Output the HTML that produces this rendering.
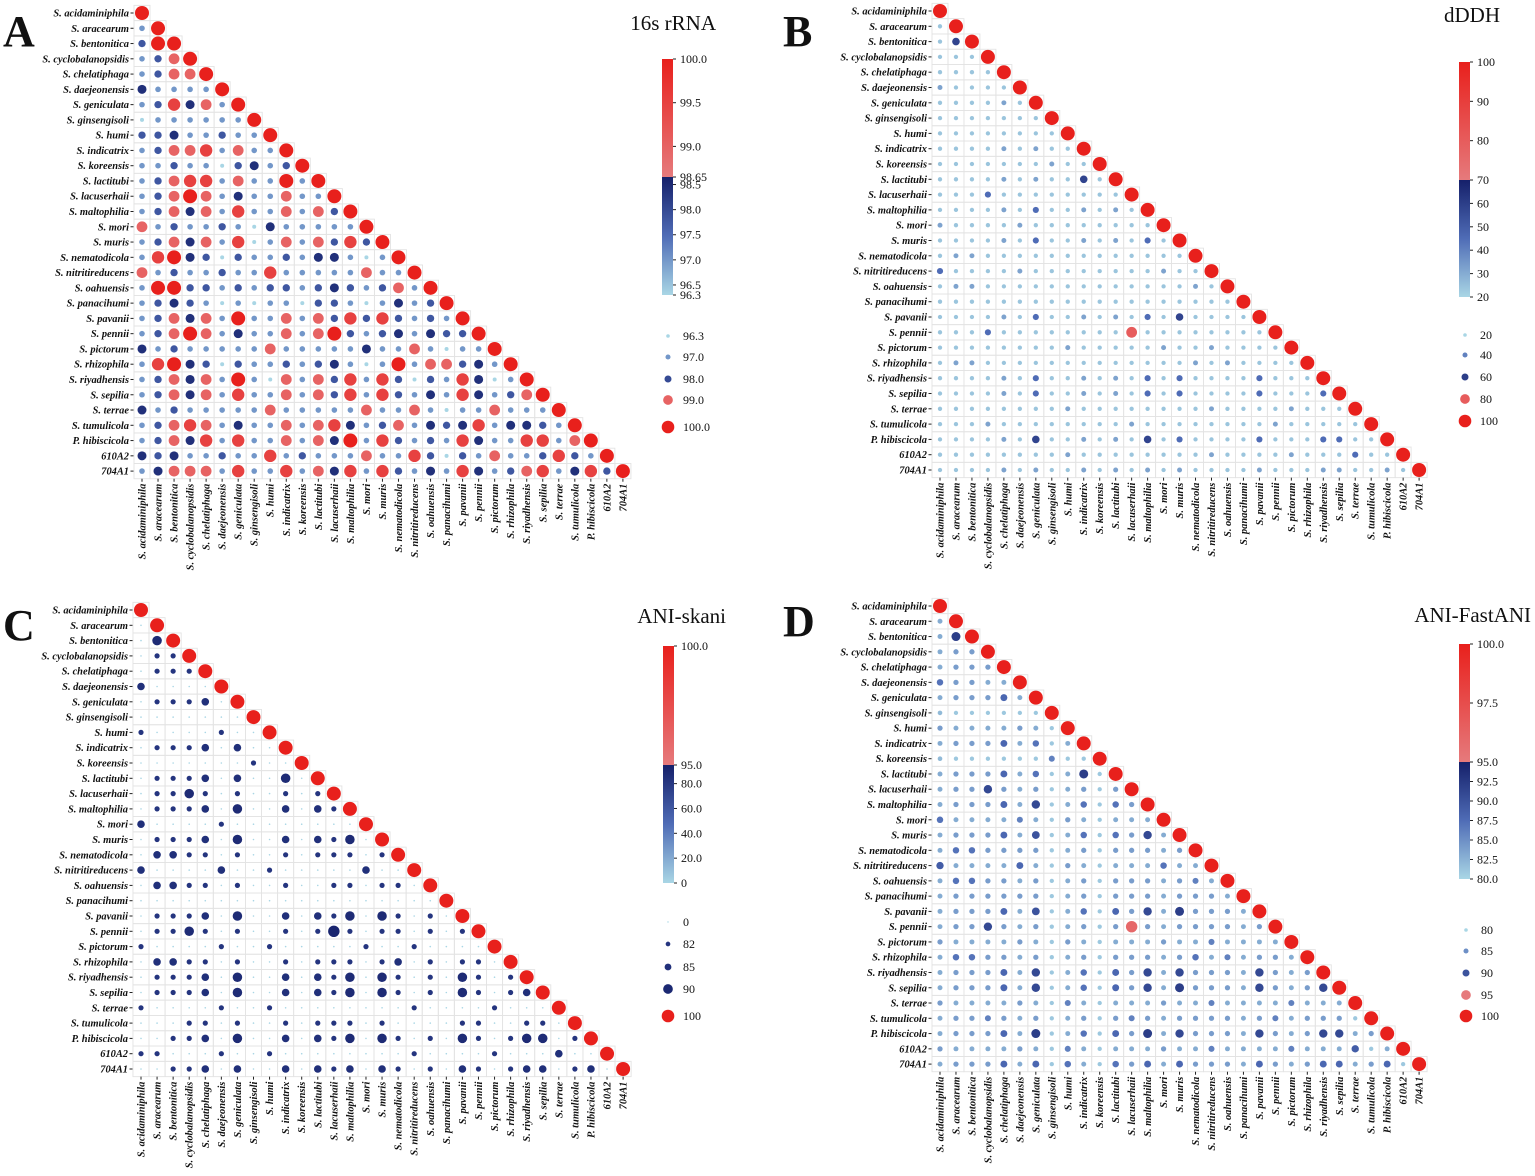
<!DOCTYPE html>
<html><head><meta charset="utf-8">
<style>
html,body{margin:0;padding:0;background:#fff;}
svg{display:block;}
text{font-family:"Liberation Serif",serif;}
.lab{font-size:10.4px;font-weight:bold;font-style:italic;fill:#111;}
.tk{font-size:12px;fill:#111;}
.ttl{font-size:21px;fill:#111;}
.let{font-size:44px;font-weight:bold;fill:#111;}
</style></head>
<body>
<svg id="fig" width="1535" height="1176" viewBox="0 0 1535 1176" xmlns="http://www.w3.org/2000/svg"></svg>
<script>
const speciesLabels = ["S. acidaminiphila","S. aracearum","S. bentonitica","S. cyclobalanopsidis","S. chelatiphaga","S. daejeonensis","S. geniculata","S. ginsengisoli","S. humi","S. indicatrix","S. koreensis","S. lactitubi","S. lacuserhaii","S. maltophilia","S. mori","S. muris","S. nematodicola","S. nitritireducens","S. oahuensis","S. panacihumi","S. pavanii","S. pennii","S. pictorum","S. rhizophila","S. riyadhensis","S. sepilia","S. terrae","S. tumulicola","P. hibiscicola","610A2","704A1"];

const rrnaValues = [
[100],
[97,100],
[97.8,100,100],
[97,97.8,99,100],
[97,97.8,99,99,100],
[98.4,97,97,97,97,100],
[97,97.8,99.5,98.4,99,97,100],
[96.3,97,97,97,97,97,97,100],
[97.8,97.8,98.4,97,97,97.8,97,97,100],
[97,97.8,99,99,99.5,97,99,97,97,100],
[97,97,97.8,97,97,96.3,97.8,98.4,97,97.8,100],
[97,97.8,99,99.5,99.5,97,99,97,97,100,97,100],
[97,97.8,99,100,99,97,98.4,97,97,99,97,97,100],
[97,97.8,99,98.4,99,97,99.5,97,97,99,97,99,97.8,100],
[99,97,97.8,97,97,97.8,97,96.3,98.4,97,97,97,97,97,100],
[97,97.8,99,98.4,99,97,99.5,96.3,97,99,97,99,97.8,99.5,97.8,100],
[97,99.5,100,98.4,97.8,96.3,97.8,97,97,97.8,97,98.4,98.4,97,96.3,97,100],
[99,97,97.8,97,97,97.8,97,97,99.5,97,97,97,97,97,99,97,97,100],
[97,100,100,97.8,97.8,97,97.8,97,97.8,97.8,97,97.8,98.4,97.8,97,97.8,99,97,100],
[97,97.8,98.4,97.8,97,96.3,97,96.3,97,97,96.3,97.8,97.8,97,96.3,97,98.4,97,97.8,100],
[97,97.8,99,98.4,99,97,100,97,97,99,97,99,97.8,99.5,97.8,99.5,97.8,97,97.8,97,100],
[97,97.8,99,100,99,97,98.4,97,97,99,97,99,100,97.8,97,97.8,98.4,97,98.4,97.8,97.8,100],
[98.4,97,97.8,97,97,97,97,97,99,97,97,97,97,97,98.4,97,97,99,97,96.3,97,97,100],
[97,99.5,100,98.4,97.8,96.3,97.8,97,97,97.8,97,97.8,98.4,97,96.3,97,100,97,99,99,97.8,98.4,97,100],
[97,97.8,99,98.4,99,97,100,97,96.3,99,97,99,97.8,99.5,97,99.5,97.8,96.3,97.8,97,99.5,98.4,96.3,97,100],
[97,97.8,99,98.4,99,97,99.5,97,97,99,97,99,97.8,99.5,97,99.5,97.8,97,98.4,97,99.5,98.4,97,97.8,99,100],
[98.4,97,97.8,97,97,97,97,97,99,97,97,97,97,97,99,97,97,99,97,96.3,97,97,99,97,97,97,100],
[97,97.8,99,99.5,99,97,98.4,97,97,99,97,99,99.5,98.4,97,97.8,99,97,98.4,97.8,98.4,99.5,97,98.4,98.4,97.8,97,100],
[97,97.8,99,98.4,99.5,97,99.5,97,97,99,97,99,98.4,100,97,99.5,97.8,97,97.8,97,99.5,98.4,97,97,99.5,99.5,97,99,100],
[98.4,97.8,98.4,97,97,97.8,97,97,99.5,97,97.8,97,97,97,99,97,97,99.5,97.8,96.3,97.8,97,99,97,97,97.8,99.5,97.8,97,100],
[97,98.4,99,99,99,97,99.5,97,97,99.5,97,99,98.4,99.5,97,99.5,97.8,97,98.4,97,99.5,98.4,97,97.8,99,99.5,97,98.4,99.5,97.8,100]
];

const dddhValues = [
[100],
[24,100],
[24,58,100],
[24,24,24,100],
[24,24,24,24,100],
[32,24,24,24,24,100],
[24,24,24,24,32,24,100],
[24,24,24,24,24,24,24,100],
[24,24,24,24,24,24,24,24,100],
[24,24,24,24,32,24,32,24,24,100],
[24,24,24,24,24,24,24,32,24,24,100],
[24,24,24,24,32,24,32,24,24,58,24,100],
[24,24,24,45,24,24,24,24,24,24,24,24,100],
[24,24,24,24,32,24,45,24,24,32,24,32,24,100],
[32,24,24,24,24,32,24,24,24,24,24,24,24,24,100],
[24,24,24,24,32,24,45,24,24,32,24,32,24,45,24,100],
[24,32,32,24,24,24,24,24,24,24,24,24,24,24,24,24,100],
[45,24,24,24,24,32,24,24,24,24,24,24,24,24,32,24,24,100],
[24,32,32,24,24,24,24,24,24,24,24,24,24,24,24,24,32,24,100],
[24,24,24,24,24,24,24,24,24,24,24,24,24,24,24,24,24,24,24,100],
[24,24,24,24,32,24,45,24,24,32,24,32,24,45,24,58,24,24,24,24,100],
[24,24,24,45,24,24,24,24,24,24,24,24,80,24,24,24,24,24,24,24,24,100],
[24,24,24,24,24,24,24,24,32,24,24,24,24,24,32,24,24,32,24,24,24,24,100],
[24,32,32,24,24,24,24,24,24,24,24,24,24,24,24,24,32,24,32,24,24,24,24,100],
[24,24,24,24,32,24,45,24,24,32,24,32,24,45,24,45,24,24,24,24,45,24,24,24,100],
[24,24,24,24,32,24,45,24,24,32,24,32,24,45,24,45,24,24,24,24,45,24,24,24,45,100],
[24,24,24,24,24,24,24,24,32,24,24,24,24,24,24,24,24,32,24,24,24,24,32,24,24,24,100],
[24,24,24,32,24,24,24,24,24,24,24,24,32,24,24,24,24,24,24,24,24,32,24,24,24,24,24,100],
[24,24,24,24,32,24,58,24,24,32,24,32,24,58,24,45,24,24,24,24,45,24,24,24,45,45,24,24,100],
[24,24,24,24,24,24,24,24,32,24,24,24,24,24,24,24,24,32,24,24,24,24,32,24,24,24,45,24,24,100],
[24,24,24,24,32,24,32,24,24,32,24,32,24,32,24,32,24,24,24,24,32,24,24,24,32,32,24,24,32,24,100]
];

const skaniValues = [
[100],
[0,100],
[0,88,100],
[0,82,82,100],
[0,82,82,82,100],
[85,0,0,0,0,100],
[0,82,82,82,85,0,100],
[0,0,0,0,0,0,0,100],
[82,0,0,0,0,82,0,0,100],
[0,82,82,82,85,0,85,0,0,100],
[0,0,0,0,0,0,0,82,0,0,100],
[0,82,82,82,85,0,85,0,0,88,0,100],
[0,82,82,88,82,0,82,0,0,82,0,82,100],
[0,82,82,82,85,0,88,0,0,85,0,85,82,100],
[85,0,0,0,0,82,0,0,0,0,0,0,0,0,100],
[0,82,82,82,85,0,88,0,0,85,0,85,82,88,0,100],
[0,85,85,82,82,0,82,0,0,82,0,82,82,82,0,82,100],
[85,0,0,0,0,85,0,0,82,0,0,0,0,0,85,0,0,100],
[0,85,85,82,82,0,82,0,0,82,0,0,82,82,0,82,82,0,100],
[0,0,0,0,0,0,0,0,0,0,0,0,0,0,0,0,0,0,0,100],
[0,82,82,82,85,0,88,0,0,85,0,85,82,88,0,88,82,0,82,0,100],
[0,82,82,88,82,0,82,0,0,82,0,82,92,82,0,82,82,0,82,0,82,100],
[82,0,0,0,0,82,0,0,82,0,0,0,0,0,82,0,0,82,0,0,0,0,100],
[0,85,85,82,82,0,82,0,0,82,0,82,82,82,0,82,85,0,82,0,82,82,0,100],
[0,82,82,82,85,0,88,0,0,85,0,85,82,88,0,88,82,0,82,0,88,82,0,82,100],
[0,82,82,82,85,0,88,0,0,85,0,85,82,88,0,88,82,0,82,0,88,82,0,82,85,100],
[82,0,0,0,0,82,0,0,82,0,0,0,0,0,0,0,0,82,0,0,0,0,82,0,0,0,100],
[0,0,0,82,82,0,82,0,0,82,0,82,82,82,0,82,0,0,0,0,82,82,0,0,82,82,0,100],
[0,0,82,82,85,0,88,0,0,85,0,85,82,88,0,88,82,0,82,0,88,82,0,82,88,88,0,82,100],
[82,82,0,0,0,82,0,0,82,0,0,0,0,0,0,0,0,82,0,0,0,0,82,0,0,0,85,0,0,100],
[0,0,82,82,85,0,85,0,0,85,0,85,82,85,0,85,82,0,82,0,85,82,0,82,85,85,0,82,85,0,100]
];

const fastaniValues = [
[100],
[83,100],
[83,92,100],
[83,84,84,100],
[83,84,84,84,100],
[87,84,84,83,83,100],
[83,84,84,84,88,83,100],
[82,81,81,81,81,81,81,100],
[84,83,83,83,83,84,83,81,100],
[83,84,84,84,88,83,87,81,83,100],
[82,81,81,81,81,81,81,86,81,81,100],
[83,84,84,84,88,83,87,81,83,92,81,100],
[83,84,84,91,84,83,84,81,83,84,81,84,100],
[83,84,84,84,88,83,91,81,83,87,81,87,84,100],
[87,83,83,83,83,86,83,81,84,83,81,83,83,83,100],
[83,84,84,84,88,83,90,81,83,87,81,87,84,91,83,100],
[83,87,87,84,84,84,84,81,83,84,81,84,84,84,83,84,100],
[89,83,83,83,83,88,83,81,84,83,81,83,83,83,87,83,83,100],
[83,87,87,84,84,83,84,81,83,84,81,84,84,84,83,84,86,83,100],
[83,84,84,84,84,84,84,81,83,84,81,84,84,84,83,84,84,84,83,100],
[83,84,84,84,88,83,90,81,83,87,81,88,84,91,83,92,84,84,84,83,100],
[83,84,84,91,84,83,84,81,83,84,81,84,96,84,83,84,84,84,84,83,84,100],
[84,83,83,83,83,84,83,81,84,83,81,83,83,83,84,83,83,86,83,83,83,83,100],
[83,87,87,84,84,83,84,81,83,84,81,84,84,84,83,84,87,83,86,83,84,84,83,100],
[83,84,84,84,88,83,91,81,83,87,81,88,84,91,83,91,84,84,84,83,91,84,83,84,100],
[83,84,84,84,88,83,91,81,83,87,81,88,84,91,83,92,84,84,84,83,91,84,83,84,91,100],
[84,83,83,83,83,84,83,81,86,83,81,83,83,83,84,83,83,86,83,83,83,83,86,83,83,83,100],
[83,84,84,86,84,83,84,81,83,84,81,84,86,84,83,84,84,84,84,83,84,86,83,84,84,84,81,100],
[83,84,84,84,88,83,92,81,83,87,81,88,84,92,83,91,84,84,84,83,91,84,83,84,91,91,83,84,100],
[84,83,83,83,83,84,83,81,86,83,81,83,83,83,84,83,83,86,83,83,83,83,86,83,83,83,89,81,83,100],
[83,84,84,84,88,83,88,81,87,83,81,87,84,88,83,88,84,84,84,83,88,84,83,84,88,88,83,84,88,81,100]
];

const rrnaTicks = ["100.0","99.5","99.0","98.65","98.5","98.0","97.5","97.0","96.5","96.3"];
const dddhTicks = ["100","90","80","70","60","50","40","30","20"];
const skaniTicks = ["100.0","95.0","80.0","60.0","40.0","20.0","0"];
const fastaniTicks = ["100.0","97.5","95.0","92.5","90.0","87.5","85.0","82.5","80.0"];

const rrnaLegend = ["96.3","97.0","98.0","99.0","100.0"];
const dddhLegend = ["20","40","60","80","100"];
const skaniLegend = ["0","82","85","90","100"];
const fastaniLegend = ["80","85","90","95","100"];

const NS = "http://www.w3.org/2000/svg";
const svg = document.getElementById('fig');
function mk(tag, attrs, parent){
  const e = document.createElementNS(NS, tag);
  for (const k in attrs) e.setAttribute(k, attrs[k]);
  (parent || svg).appendChild(e);
  return e;
}
function hex(c){return [parseInt(c.slice(1,3),16),parseInt(c.slice(3,5),16),parseInt(c.slice(5,7),16)];}
function mix(a,b,t){const A=hex(a),B=hex(b);return 'rgb('+A.map((v,i)=>Math.round(v+(B[i]-v)*t)).join(',')+')';}
function lowColor(t){t=Math.max(0,Math.min(1,t)); return t<0.5?mix('#a9d6e5','#4f6cb6',t/0.5):mix('#4f6cb6','#15206a',(t-0.5)/0.5);}
function highColor(t){t=Math.max(0,Math.min(1,t)); return mix('#e67a7c','#e8201c',t);}

const panels = [
 {key:'a', letter:'A', title:'16s rRNA', data:rrnaValues, ticks:rrnaTicks, legend:rrnaLegend,
  min:96.3, split:98.65, max:100, x0:142, y0:13, dx:16.03, dy:15.27,
  letX:3, letY:46, titleX:716, titleY:30,
  cbX:662, cbW:11, cbTop:59, cbMid:177, cbBot:295, legX:668, legY:[336,357,379,400,427],
  sizes:[[96.3,2],[97,2.8],[98,3.9],[99,5.4],[100,7]]},
 {key:'b', letter:'B', title:'dDDH', data:dddhValues, ticks:dddhTicks, legend:dddhLegend,
  min:20, split:70, max:100, x0:940, y0:11, dx:15.97, dy:15.3,
  letX:783, letY:46, titleX:1500, titleY:22,
  cbX:1459, cbW:11, cbTop:62, cbMid:180, cbBot:297, legX:1465, legY:[335,355,377,399,421],
  sizes:[[20,2],[40,2.8],[60,3.9],[80,5.4],[100,7]]},
 {key:'c', letter:'C', title:'ANI-skani', data:skaniValues, ticks:skaniTicks, legend:skaniLegend,
  min:0, split:95, max:100, x0:141, y0:610, dx:16.07, dy:15.3,
  letX:3, letY:640, titleX:726, titleY:623,
  cbX:663, cbW:11, cbTop:646, cbMid:765, cbBot:883, legX:668, legY:[922,944,967,989,1016],
  sizes:[[0,0.8],[80,0.8],[82,2.6],[85,3.8],[90,5.4],[100,7]]},
 {key:'d', letter:'D', title:'ANI-FastANI', data:fastaniValues, ticks:fastaniTicks, legend:fastaniLegend,
  min:80, split:95, max:100, x0:940, y0:606, dx:15.97, dy:15.27,
  letX:783, letY:636, titleX:1531, titleY:622,
  cbX:1459, cbW:11, cbTop:644, cbMid:762, cbBot:879, legX:1466, legY:[930,951,973,995,1016],
  sizes:[[80,2],[85,2.8],[90,3.9],[95,5.4],[100,7]]}
];

panels.forEach(p=>{
  const colorOf = v => v>=p.split ? highColor((v-p.split)/(p.max-p.split)) : lowColor((v-p.min)/(p.split-p.min));
  const radiusOf = v => {const s=p.sizes; if(v<=s[0][0]) return s[0][1];
    for(let i=1;i<s.length;i++){ if(v<=s[i][0]) return s[i-1][1]+(s[i][1]-s[i-1][1])*(v-s[i-1][0])/(s[i][0]-s[i-1][0]); }
    return s[s.length-1][1];};
  const yScale = v => v>=p.split ? p.cbMid-(v-p.split)/(p.max-p.split)*(p.cbMid-p.cbTop) : p.cbBot-(v-p.min)/(p.split-p.min)*(p.cbBot-p.cbMid);
  const xPos = j => p.x0 + j*p.dx;
  const yPos = i => p.y0 + i*p.dy;

  const g = mk('g', {});
  
  

  const letter = mk('text', {x:p.letX, y:p.letY, class:'let'}, g);
  letter.textContent = p.letter;
  
  

  const title = mk('text', {x:p.titleX, y:p.titleY, class:'ttl', 'text-anchor':'end'}, g);
  title.textContent = p.title;
  
  

  const n = speciesLabels.length;
  const grid = mk('g', {}, g);
  
  
  for(let i=0;i<n;i++){
    for(let j=0;j<=i;j++){
      mk('rect', {x:xPos(j)-p.dx/2, y:yPos(i)-p.dy/2, width:p.dx, height:p.dy, fill:'none', stroke:'#e3e3e3', 'stroke-width':0.9}, grid);
    }
  }
  speciesLabels.forEach((name,i)=>{
    const t = mk('text', {x:p.x0-13, y:yPos(i)+3.5, class:'lab', 'text-anchor':'end'}, g);
    t.textContent = name;
    
    
    mk('line', {x1:p.x0-11.5, x2:p.x0-8.5, y1:yPos(i), y2:yPos(i), stroke:'#222', 'stroke-width':1}, g);
  });
  const yb = yPos(n-1) + p.dy/2;
  speciesLabels.forEach((name,j)=>{
    mk('line', {x1:xPos(j), x2:xPos(j), y1:yb, y2:yb+3, stroke:'#222', 'stroke-width':1}, g);
    const t = mk('text', {x:0, y:0, class:'lab', 'text-anchor':'end', transform:'translate('+(xPos(j)+3.5)+','+(yb+5)+') rotate(-90)'}, g);
    t.textContent = name;
    
    
  });
  p.data.forEach((row,i)=>{
    row.forEach((v,j)=>{
      const c = mk('circle', {cx:xPos(j), cy:yPos(i), r:radiusOf(v), fill:colorOf(v)}, g);
      
      
    });
  });
  const defs = mk('defs', {}, g);
  const gh = mk('linearGradient', {id:'gh'+p.key, x1:0, y1:1, x2:0, y2:0}, defs);
  mk('stop', {offset:'0', 'stop-color':highColor(0)}, gh);
  mk('stop', {offset:'1', 'stop-color':highColor(1)}, gh);
  const gl = mk('linearGradient', {id:'gl'+p.key, x1:0, y1:1, x2:0, y2:0}, defs);
  mk('stop', {offset:'0', 'stop-color':lowColor(0)}, gl);
  mk('stop', {offset:'0.5', 'stop-color':lowColor(0.5)}, gl);
  mk('stop', {offset:'1', 'stop-color':lowColor(1)}, gl);
  const cb = mk('g', {}, g);
  
  
  mk('rect', {x:p.cbX, y:p.cbTop, width:p.cbW, height:p.cbMid-p.cbTop, fill:'url(#gh'+p.key+')'}, cb);
  mk('rect', {x:p.cbX, y:p.cbMid, width:p.cbW, height:p.cbBot-p.cbMid, fill:'url(#gl'+p.key+')'}, cb);
  p.ticks.forEach(lbl=>{
    const y = yScale(parseFloat(lbl));
    mk('line', {x1:p.cbX+p.cbW, x2:p.cbX+p.cbW+3, y1:y, y2:y, stroke:'#222', 'stroke-width':1}, cb);
    const t = mk('text', {x:p.cbX+p.cbW+7, y:y+4, class:'tk'}, cb);
    t.textContent = lbl;
    
    
  });
  const lg = mk('g', {}, g);
  
  
  p.legend.forEach((lbl,k)=>{
    const v = parseFloat(lbl);
    const c = mk('circle', {cx:p.legX, cy:p.legY[k], r:radiusOf(v)*0.9, fill:colorOf(v)}, lg);
    
    
    const t = mk('text', {x:p.legX+15, y:p.legY[k]+4, class:'tk'}, lg);
    t.textContent = lbl;
    
    
  });
});
</script>
</body></html>
